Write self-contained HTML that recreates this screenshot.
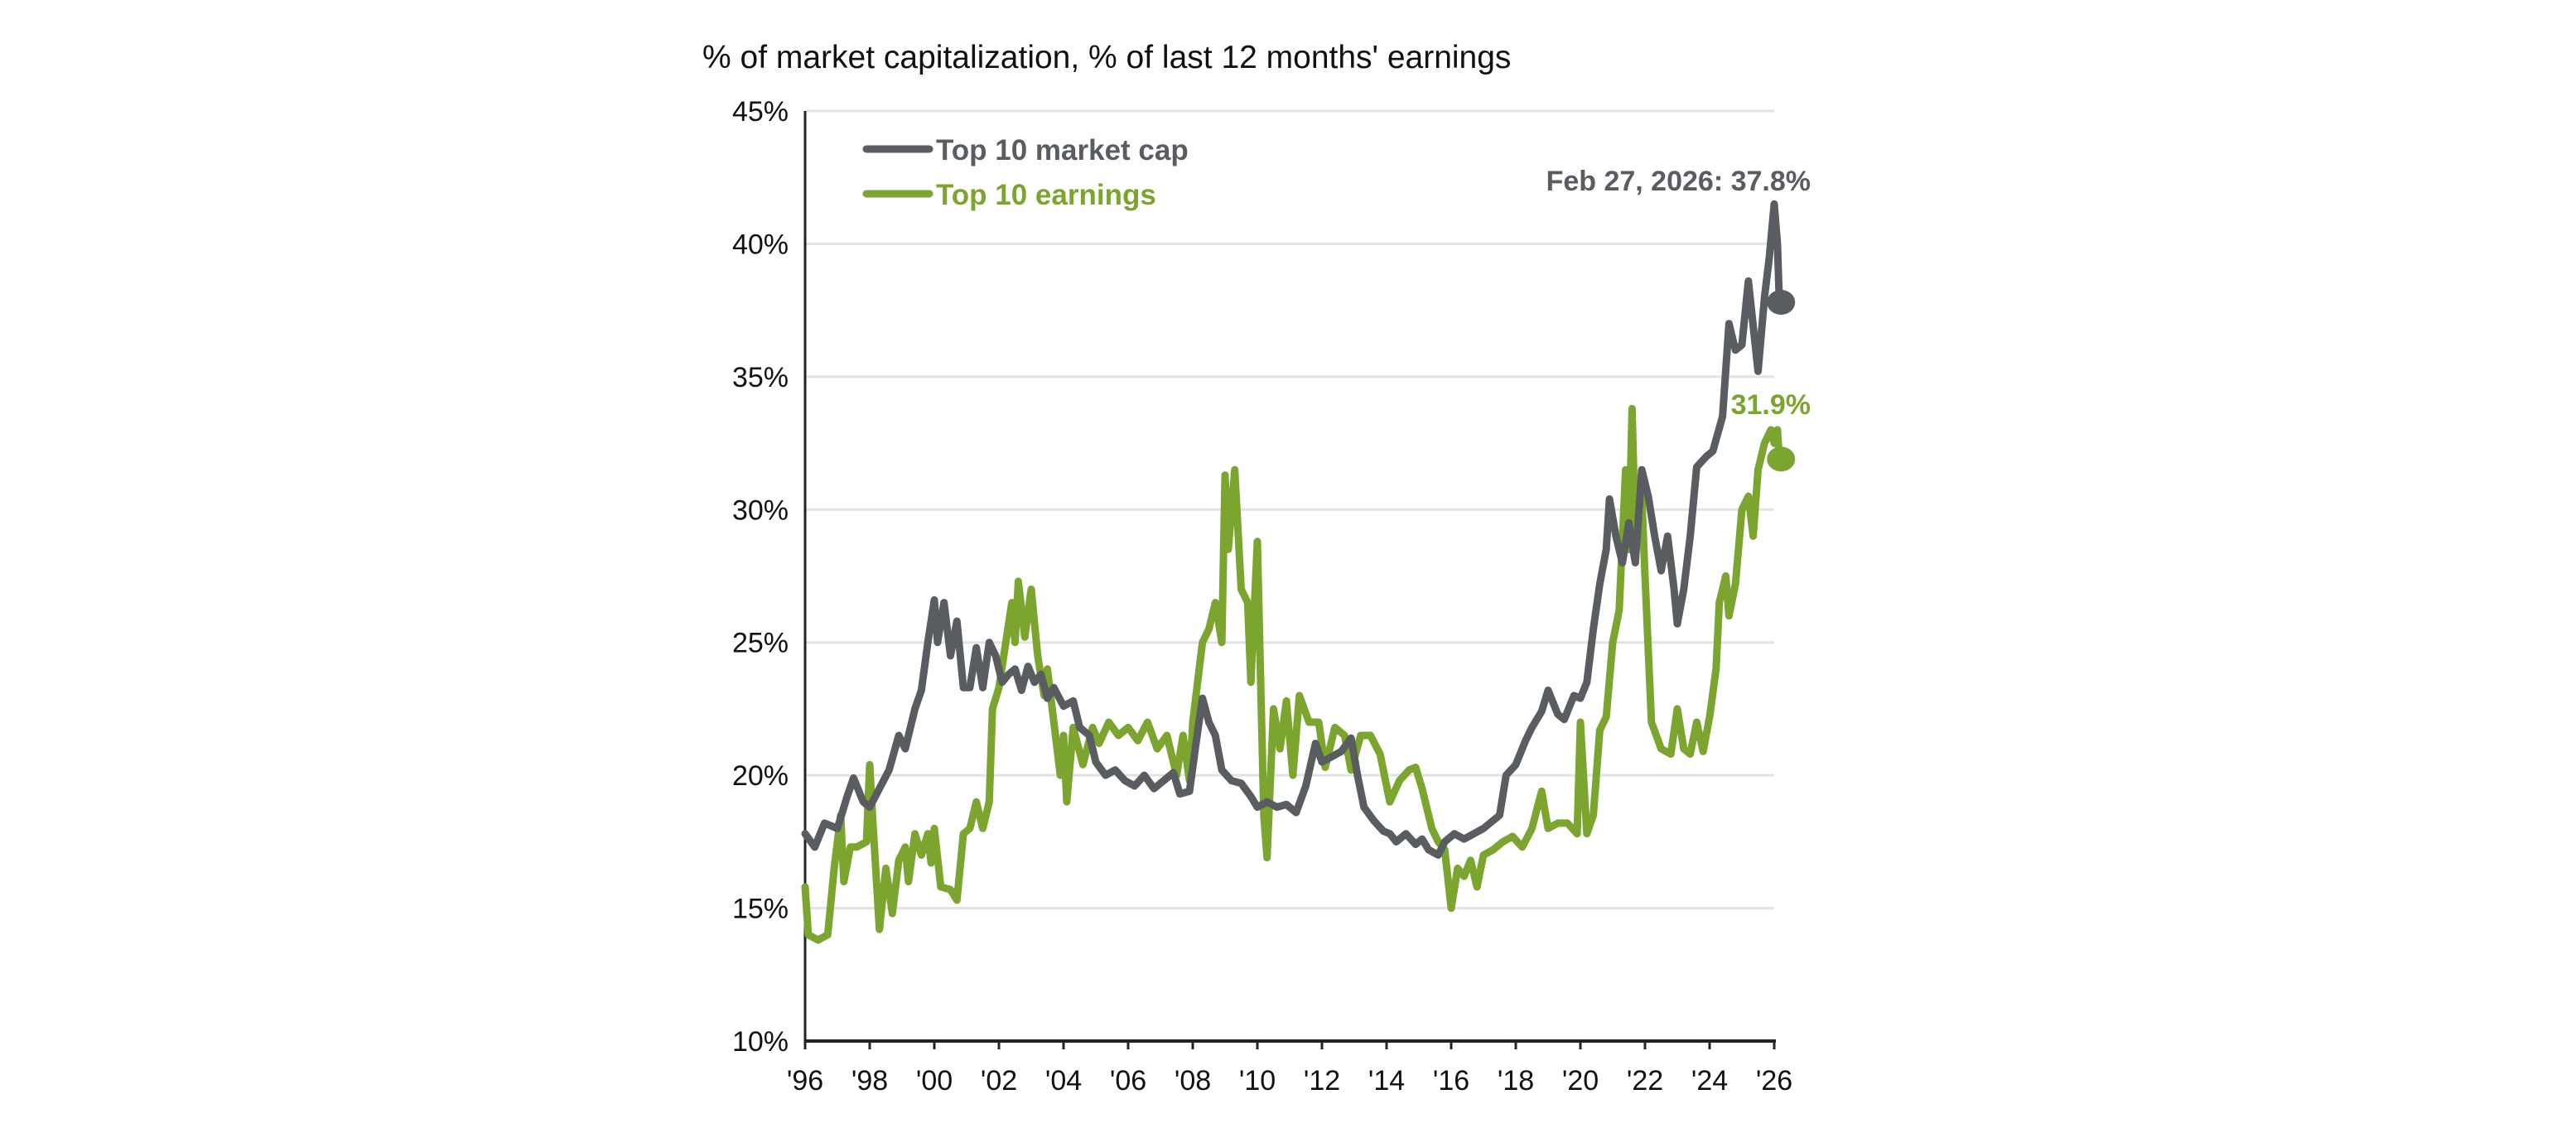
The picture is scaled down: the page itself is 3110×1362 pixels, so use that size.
<!DOCTYPE html>
<html><head><meta charset="utf-8"><style>
html,body{margin:0;padding:0;background:#fff;}
svg{display:block;font-family:"Liberation Sans",Arial,sans-serif;}
</style></head><body>
<svg id="chart" width="3110" height="1362" viewBox="0 0 3110 1362">
<text x="848" y="82" font-size="39" fill="#111">% of market capitalization, % of last 12 months' earnings</text>
<g id="grid"></g>
<g id="yticks"></g>
<g id="xaxis"></g>
<g id="series"></g>
<g>
 <g>
  <line x1="1046" y1="180" x2="1122" y2="180" stroke="#595d61" stroke-width="9" stroke-linecap="round"/>
  <text x="1130" y="193" font-size="35" font-weight="bold" fill="#595d61">Top 10 market cap</text>
 </g>
 <g>
  <line x1="1046" y1="234" x2="1122" y2="234" stroke="#7ba52e" stroke-width="9" stroke-linecap="round"/>
  <text x="1130" y="247" font-size="35" font-weight="bold" fill="#7ba52e">Top 10 earnings</text>
 </g>
</g>
<text x="2186" y="230" font-size="34" font-weight="bold" fill="#595d61" text-anchor="end">Feb 27, 2026: 37.8%</text>
<text x="2186" y="500" font-size="34" font-weight="bold" fill="#7ba52e" text-anchor="end">31.9%</text>
</svg>
<script>
const capDates=[1996.0,1996.3,1996.6,1997.0,1997.3,1997.5,1997.8,1998.0,1998.3,1998.6,1998.9,1999.1,1999.4,1999.6,1999.8,2000.0,2000.1,2000.3,2000.5,2000.7,2000.9,2001.1,2001.3,2001.5,2001.7,2001.9,2002.1,2002.3,2002.5,2002.7,2002.9,2003.1,2003.3,2003.5,2003.7,2004.0,2004.3,2004.5,2004.8,2005.0,2005.3,2005.6,2005.9,2006.2,2006.5,2006.8,2007.1,2007.4,2007.6,2007.9,2008.1,2008.3,2008.5,2008.7,2008.9,2009.2,2009.5,2009.8,2010.0,2010.3,2010.6,2010.9,2011.2,2011.5,2011.8,2012.0,2012.3,2012.6,2012.9,2013.1,2013.3,2013.6,2013.9,2014.1,2014.3,2014.6,2014.9,2015.1,2015.3,2015.6,2015.8,2016.1,2016.4,2016.7,2017.0,2017.3,2017.5,2017.7,2018.0,2018.3,2018.5,2018.8,2019.0,2019.3,2019.5,2019.8,2020.0,2020.2,2020.4,2020.6,2020.8,2020.9,2021.1,2021.3,2021.5,2021.7,2021.9,2022.1,2022.3,2022.5,2022.7,2022.9,2023.0,2023.2,2023.4,2023.6,2023.9,2024.1,2024.4,2024.6,2024.8,2025.0,2025.2,2025.5,2025.7,2025.85,2026.0,2026.1,2026.16];
const capValues=[17.8,17.3,18.2,18.0,19.2,19.9,19.0,18.8,19.5,20.2,21.5,21.0,22.5,23.2,25.0,26.6,25.0,26.5,24.5,25.8,23.3,23.3,24.8,23.3,25.0,24.5,23.5,23.8,24.0,23.2,24.1,23.5,23.8,22.9,23.3,22.6,22.8,21.8,21.5,20.5,20.0,20.2,19.8,19.6,20.0,19.5,19.8,20.1,19.3,19.4,21.2,22.9,22.0,21.5,20.2,19.8,19.7,19.2,18.8,19.0,18.8,18.9,18.6,19.6,21.2,20.5,20.7,20.9,21.4,20.0,18.8,18.3,17.9,17.8,17.5,17.8,17.4,17.6,17.2,17.0,17.5,17.8,17.6,17.8,18.0,18.3,18.5,20.0,20.4,21.3,21.8,22.4,23.2,22.3,22.1,23.0,22.9,23.5,25.5,27.2,28.5,30.4,29.0,28.0,29.5,28.0,31.5,30.5,29.0,27.7,29.0,27.0,25.7,27.0,29.0,31.6,32.0,32.2,33.5,37.0,36.0,36.2,38.6,35.2,38.0,39.5,41.5,40.0,37.8];
const earnDates=[1996.0,1996.1,1996.4,1996.7,1996.9,1997.1,1997.2,1997.4,1997.6,1997.9,1998.0,1998.1,1998.3,1998.5,1998.7,1998.9,1999.1,1999.2,1999.4,1999.6,1999.8,1999.9,2000.0,2000.2,2000.5,2000.7,2000.9,2001.1,2001.3,2001.5,2001.7,2001.8,2002.0,2002.2,2002.4,2002.5,2002.6,2002.8,2003.0,2003.2,2003.4,2003.5,2003.7,2003.9,2004.0,2004.1,2004.3,2004.6,2004.9,2005.1,2005.4,2005.7,2006.0,2006.3,2006.6,2006.9,2007.2,2007.5,2007.7,2007.9,2008.0,2008.3,2008.5,2008.7,2008.9,2009.0,2009.1,2009.3,2009.5,2009.7,2009.8,2010.0,2010.2,2010.3,2010.5,2010.7,2010.9,2011.1,2011.3,2011.6,2011.9,2012.1,2012.4,2012.7,2012.9,2013.2,2013.5,2013.8,2014.1,2014.4,2014.7,2014.9,2015.1,2015.4,2015.6,2015.8,2016.0,2016.2,2016.4,2016.6,2016.8,2017.0,2017.3,2017.6,2017.9,2018.2,2018.5,2018.8,2019.0,2019.3,2019.6,2019.9,2020.0,2020.2,2020.4,2020.6,2020.8,2021.0,2021.2,2021.4,2021.5,2021.6,2021.7,2021.9,2022.0,2022.2,2022.5,2022.8,2023.0,2023.2,2023.4,2023.6,2023.8,2024.0,2024.2,2024.3,2024.5,2024.6,2024.8,2025.0,2025.2,2025.35,2025.5,2025.7,2025.9,2026.0,2026.1,2026.16];
const earnValues=[15.8,14.0,13.8,14.0,16.5,18.5,16.0,17.3,17.3,17.5,20.4,18.2,14.2,16.5,14.8,16.8,17.3,16.0,17.8,17.0,17.8,16.7,18.0,15.8,15.7,15.3,17.8,18.0,19.0,18.0,19.0,22.5,23.3,24.9,26.5,25.0,27.3,25.2,27.0,24.5,23.0,24.0,22.0,20.0,21.5,19.0,21.8,20.4,21.8,21.2,22.0,21.5,21.8,21.3,22.0,21.0,21.5,20.0,21.5,19.8,22.0,25.0,25.5,26.5,25.0,31.3,28.5,31.5,27.0,26.5,23.5,28.8,18.5,16.9,22.5,21.0,22.8,20.0,23.0,22.0,22.0,20.3,21.8,21.5,20.2,21.5,21.5,20.8,19.0,19.8,20.2,20.3,19.5,18.0,17.5,17.2,15.0,16.5,16.2,16.8,15.8,17.0,17.2,17.5,17.7,17.3,18.0,19.4,18.0,18.2,18.2,17.8,22.0,17.8,18.5,21.7,22.2,25.0,26.2,31.5,28.5,33.8,29.0,30.5,27.5,22.0,21.0,20.8,22.5,21.0,20.8,22.0,20.9,22.2,24.0,26.5,27.5,26.0,27.2,30.0,30.5,29.0,31.5,32.5,33.0,32.5,33.0,31.9];
const yTicks=[10,15,20,25,30,35,40,45];
const xTickYears=[1996,1998,2000,2002,2004,2006,2008,2010,2012,2014,2016,2018,2020,2022,2024,2026];

const NS="http://www.w3.org/2000/svg";
const X0=972,X1=2142,Y0=1257,Y1=134;
const xs=d=>X0+(d-1996)/(2026-1996)*(X1-X0);
const ys=v=>Y0-(v-10)/(45-10)*(Y0-Y1);
function mk(tag,attrs,parent){const e=document.createElementNS(NS,tag);for(const k in attrs)e.setAttribute(k,attrs[k]);parent.appendChild(e);return e;}
const grid=document.getElementById('grid'),yt=document.getElementById('yticks'),xa=document.getElementById('xaxis'),ser=document.getElementById('series');
yTicks.forEach(v=>{
  if(v>10){const g=mk('line',{x1:X0,x2:X1,y1:ys(v),y2:ys(v),stroke:'#e3e3e3','stroke-width':3},grid);
  
  }
  const t=mk('text',{x:952,y:ys(v)+12,'font-size':34,fill:'#111','text-anchor':'end'},yt);
  t.textContent=v+'%';
  
  
});
const ax=mk('line',{x1:X0,x2:X0,y1:Y1,y2:Y0+2,stroke:'#222','stroke-width':3},xa);


const bx=mk('line',{x1:X0,x2:X1+2,y1:Y0,y2:Y0,stroke:'#222','stroke-width':4},xa);


xTickYears.forEach(y=>{
  const tk=mk('line',{x1:xs(y),x2:xs(y),y1:Y0,y2:Y0+10,stroke:'#222','stroke-width':3},xa);
  
  
  const t=mk('text',{x:xs(y),y:1316,'font-size':34,fill:'#111','text-anchor':'middle'},xa);
  t.textContent="'"+String(y).slice(2);
  
  
});
function drawLine(dates,vals,color,name){
  const d=dates.map((t,i)=>(i?'L':'M')+xs(t).toFixed(1)+' '+ys(vals[i]).toFixed(1)).join(' ');
  const p=mk('path',{d:d,fill:'none',stroke:color,'stroke-width':9,'stroke-linejoin':'round','stroke-linecap':'round'},ser);
  
  
  const n=dates.length-1;
  const c=mk('ellipse',{cx:xs(dates[n])+2,cy:ys(vals[n]),rx:17,ry:15,fill:color},ser);
  
  
}
drawLine(earnDates,earnValues,'#7ba52e','earnings');
drawLine(capDates,capValues,'#595d61','market-cap');
</script>
</body></html>
